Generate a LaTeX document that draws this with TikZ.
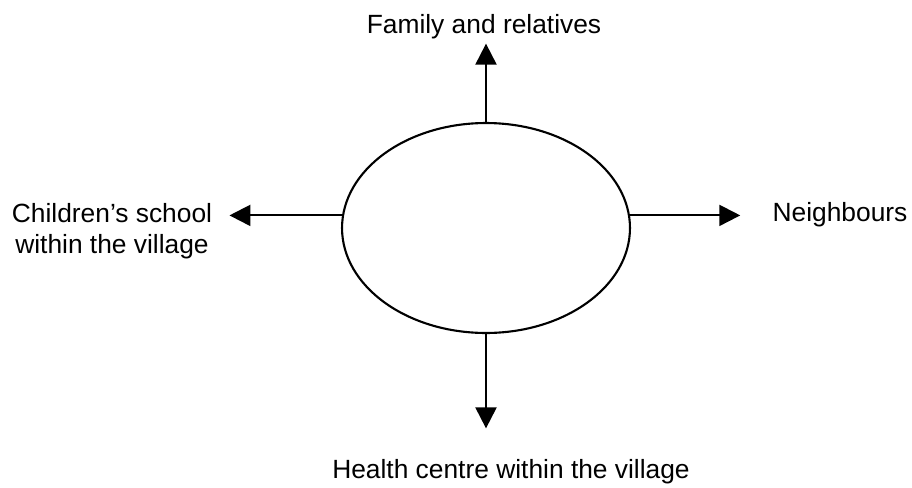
\documentclass[tikz,border=0pt]{standalone}
\usepackage{fontspec}
\setmainfont{Liberation Sans}
\usetikzlibrary{arrows.meta, positioning, shapes.geometric, calc}

\tikzset{
  label/.style={font=\fontsize{15}{18}\selectfont, inner sep=0pt, align=center},
  link/.style={line width=1.2pt, -{Triangle[length=0.42cm, width=0.42cm]}}
}

\begin{document}
\begin{tikzpicture}[x=0.02cm, y=-0.02cm]
\useasboundingbox (0,0) rectangle (912,487);
\node[draw, ellipse, line width=1.2pt, minimum width=5.76cm, minimum height=4.2cm] (hub) at (486,228) {};
\node[label] (family) at (484,27) {Family and relatives};
\node[label] (school) at (112,231) {Children’s school\\within the village};
\node[label] (neigh) at (840,215) {Neighbours};
\node[label] (health) at (511,472) {Health centre within the village};
% arrows out of the ellipse
\draw[link] (hub.north) -- ($(hub.north |- family.south)+(0,4)$);
\draw[link] (hub.175) -- ($(school.east |- hub.175)+(17,0)$);
\draw[link] (hub.5) -- ($(neigh.west |- hub.5)+(-32,0)$);
\draw[link] (hub.south) -- ($(hub.south |- health.north)+(0,-31)$);
\end{tikzpicture}
\end{document}
